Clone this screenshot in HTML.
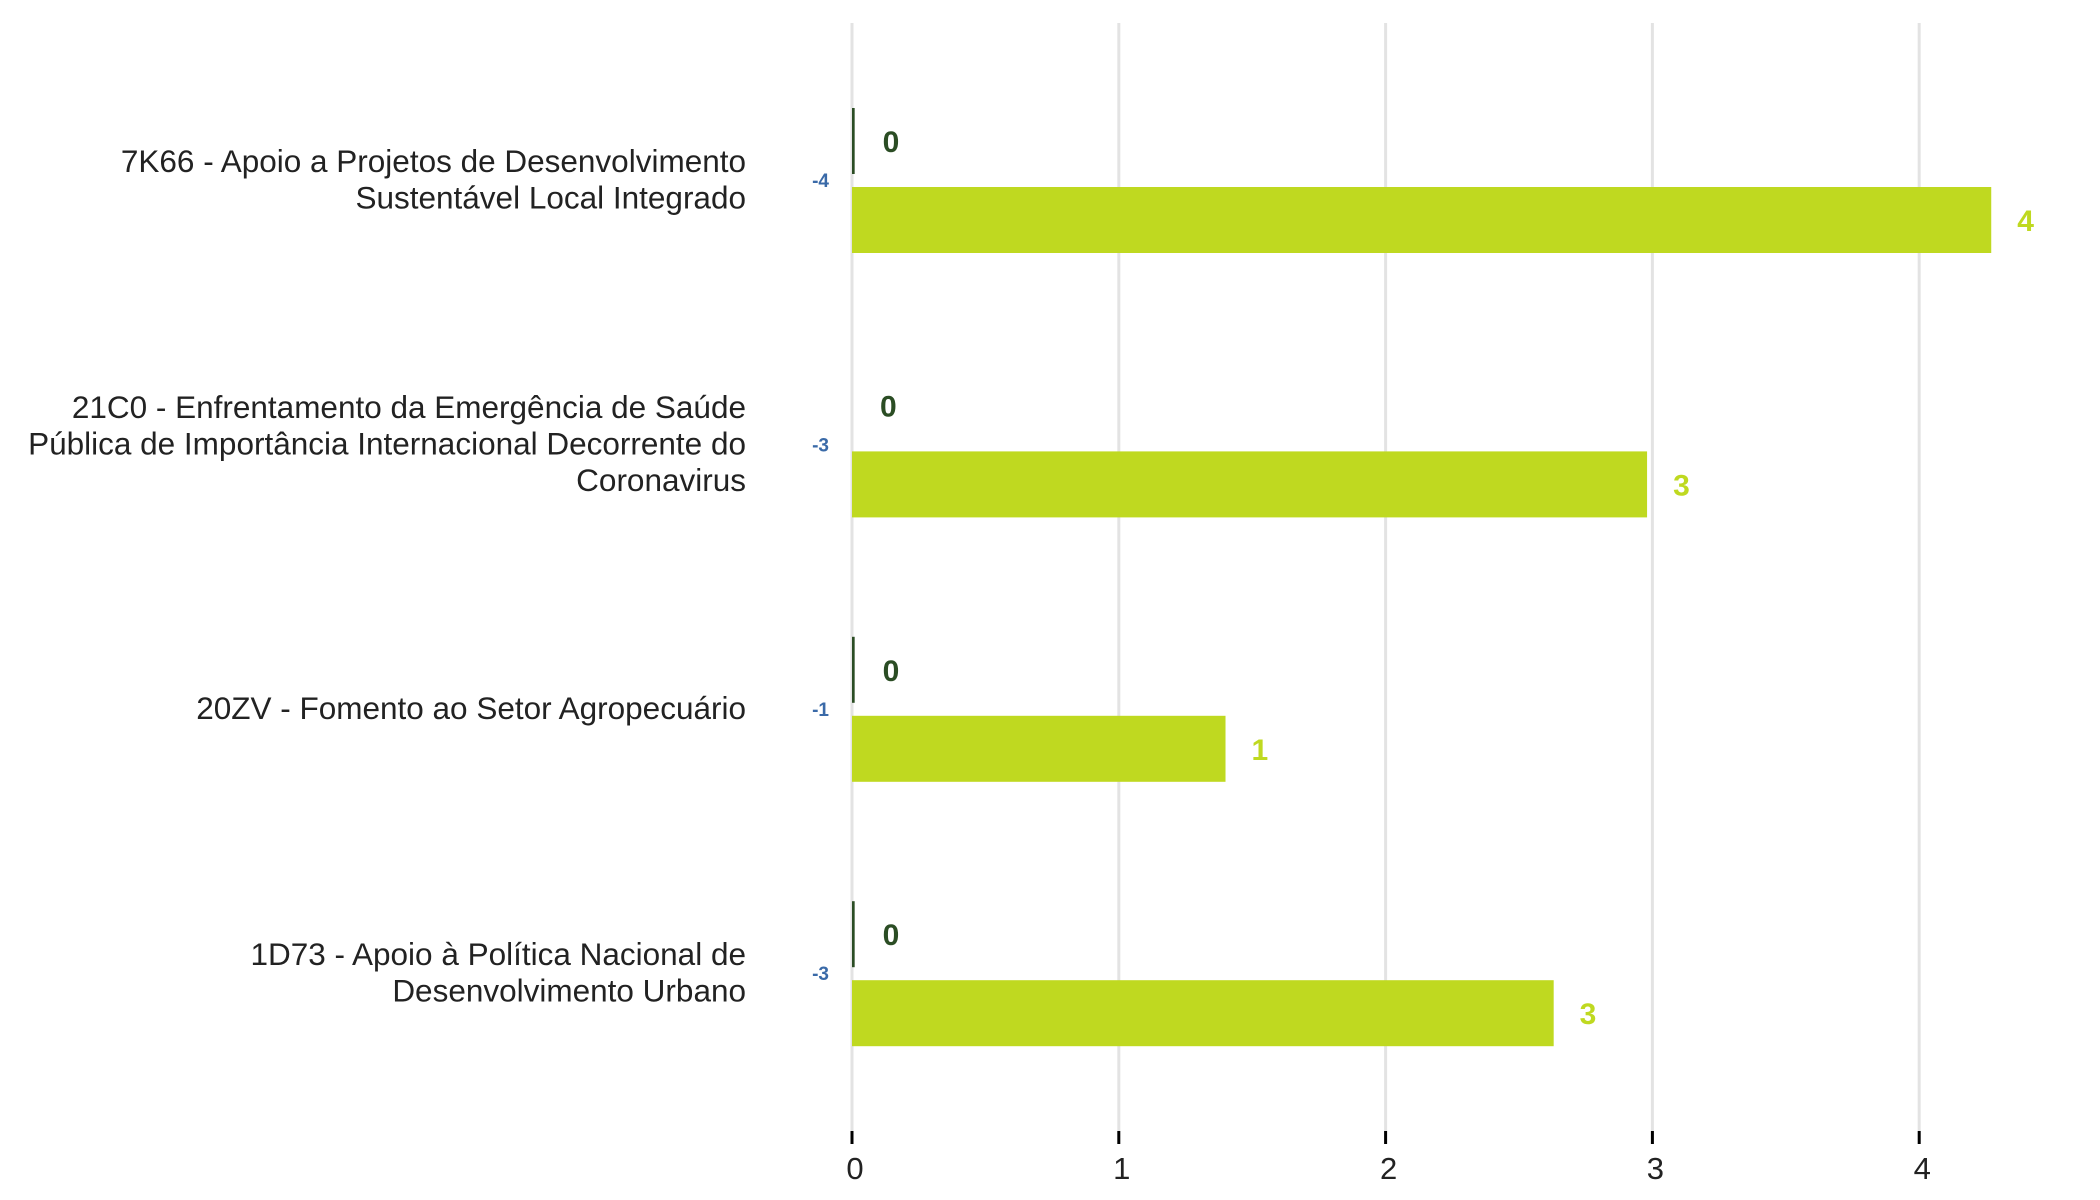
<!DOCTYPE html>
<html><head><meta charset="utf-8"><style>
html,body{margin:0;padding:0;background:#fff;}
svg{display:block;font-family:"Liberation Sans",sans-serif;}
</style></head><body>
<svg id="chart" width="2100" height="1200" viewBox="0 0 2100 1200" xmlns="http://www.w3.org/2000/svg">
<g id="grid"></g>
<g id="bars"></g>
<g id="labels"></g>
<g id="axis"></g>
</svg>
<script>
const categories = [
  ["7K66 - Apoio a Projetos de Desenvolvimento","Sustentável Local Integrado"],
  ["21C0 - Enfrentamento da Emergência de Saúde","Pública de Importância Internacional Decorrente do","Coronavirus"],
  ["20ZV - Fomento ao Setor Agropecuário"],
  ["1D73 - Apoio à Política Nacional de","Desenvolvimento Urbano"]
];
const darkValues = [0.01, 0, 0.01, 0.01];
const darkLabels = ["0","0","0","0"];
const greenValues = [4.27, 2.98, 1.40, 2.63];
const greenLabels = ["4","3","1","3"];
const diffLabels = ["-4","-3","-1","-3"];
const ticks = [0,1,2,3,4];

const NS="http://www.w3.org/2000/svg";
const x0=852, unit=266.8;
function xs(v){return x0+v*unit;}
function ys(i){return 180+i*264.4;}
function mk(tag,attrs,parent,text){const e=document.createElementNS(NS,tag);for(const k in attrs)e.setAttribute(k,attrs[k]);if(text!==undefined)e.textContent=text;parent.appendChild(e);return e;}
const grid=document.getElementById('grid'),bars=document.getElementById('bars'),labels=document.getElementById('labels'),axis=document.getElementById('axis');

ticks.forEach(t=>{
  const g=mk('line',{x1:xs(t),x2:xs(t),y1:23,y2:1131,stroke:'#e3e3e3','stroke-width':3},grid);
  
  
  const tk=mk('line',{x1:xs(t),x2:xs(t),y1:1131,y2:1144,stroke:'#000','stroke-width':3},axis);
  
  
  const tl=mk('text',{x:xs(t)+3,y:1179,'text-anchor':'middle','font-size':31,fill:'#222'},axis,String(t));
  
  
});

categories.forEach((lines,i)=>{
  const cy=ys(i);
  const t=mk('text',{x:746,'text-anchor':'end','font-size':31.5,fill:'#222'},labels);
  
  
  const lh=36.5, start=cy-(lines.length-1)*lh/2+10;
  lines.forEach((ln,j)=>{mk('tspan',{x:746,y:start+j*lh},t,ln);});

  const dw=Math.max(xs(darkValues[i])-x0,darkValues[i]>0?1.6:0);
  const db=mk('rect',{x:x0,y:cy-72,width:dw,height:66,fill:'#2b4d24'},bars);
  
  
  const gb=mk('rect',{x:x0,y:cy+7,width:xs(greenValues[i])-x0,height:66,fill:'#bfd920'},bars);
  
  

  const dl=mk('text',{x:xs(darkValues[i])+28,y:cy-28,'font-size':30,'font-weight':'bold',fill:'#2b4d24'},labels,darkLabels[i]);
  
  
  const gl=mk('text',{x:xs(greenValues[i])+26,y:cy+51,'font-size':30,'font-weight':'bold',fill:'#bfd920'},labels,greenLabels[i]);
  
  
  const bl=mk('text',{x:829,y:cy+7,'text-anchor':'end','font-size':19,'font-weight':'bold',fill:'#3a6aa8'},labels,diffLabels[i]);
  
  
});
</script>
</body></html>
